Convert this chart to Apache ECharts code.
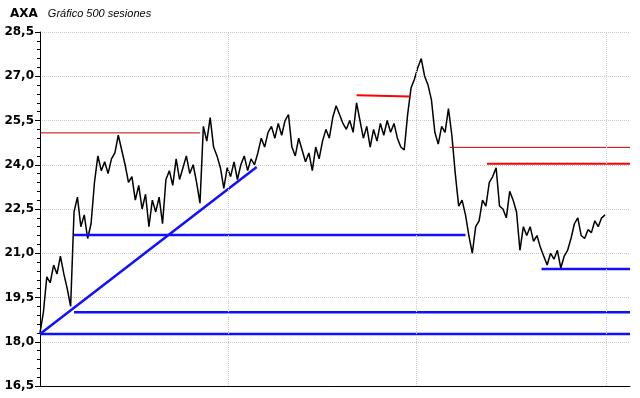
<!DOCTYPE html>
<html>
<head>
<meta charset="utf-8">
<script src="https://cdn.jsdelivr.net/npm/echarts@6/dist/echarts.min.js"></script>
<style>
  html, body { margin: 0; padding: 0; background: #fff; }
  #chart { width: 640px; height: 398px; }
</style>
</head>
<body>
<div id="chart"></div>
<script>
        // cotizaciones (una cada 3 sesiones)
        const paso = 3;
        const precios = [
            18.3, 19.0, 20.2, 20.0, 20.6, 20.3, 20.9, 20.3, 19.8, 19.2,
            22.4, 22.9, 21.9, 22.3, 21.5, 22.0, 23.4, 24.3, 23.8, 24.1,
            23.7, 24.2, 24.4, 25.0, 24.5, 24.0, 23.4, 23.6, 22.8, 23.3,
            22.5, 23.0, 21.9, 22.8, 22.4, 22.9, 22.0, 23.5, 23.8, 23.3,
            24.2, 23.5, 23.9, 24.3, 23.7, 24.0, 23.4, 22.7, 25.3, 24.8,
            25.6, 24.6, 24.3, 23.9, 23.2, 23.9, 23.6, 24.1, 23.5, 24.0,
            24.3, 23.8, 24.2, 24.0, 24.4, 24.9, 24.6, 25.1, 25.3, 24.9,
            25.4, 25.0, 25.5, 25.7, 24.6, 24.3, 24.9, 24.5, 24.1, 24.4,
            23.8, 24.6, 24.2, 24.8, 25.2, 24.9, 25.6, 26.0, 25.7, 25.4,
            25.2, 25.5, 25.1, 26.1, 25.5, 24.9, 25.3, 24.6, 25.2, 24.8,
            25.4, 25.0, 25.5, 25.1, 25.4, 24.9, 24.6, 24.5, 25.7, 26.6,
            26.9, 27.3, 27.6, 27.0, 26.7, 26.2, 25.1, 24.7, 25.3, 25.1,
            25.9, 25.0, 23.7, 22.6, 22.8, 22.3, 21.6, 21.0, 21.9, 22.1,
            22.8, 22.6, 23.4, 23.6, 23.9, 22.6, 22.5, 22.2, 23.1, 22.8,
            22.4, 21.1, 21.9, 21.6, 21.9, 21.4, 21.6, 21.2, 20.9, 20.6,
            21.0, 20.8, 21.1, 20.5, 20.9, 21.1, 21.5, 22.0, 22.2, 21.6,
            21.5, 21.8, 21.7, 22.1, 21.9, 22.2, 22.3
        ];

        // lineas: [sesion inicio, valor inicio, sesion fin, valor fin]
        const lineasAzules = [
            [30, 21.62, 375, 21.62],
            [30, 19.0, 520, 19.0],
            [0, 18.26, 520, 18.26],
            [442, 20.47, 520, 20.47],
            [0, 18.26, 191, 23.92]
        ];
        const lineasRojas = [
            [279, 26.36, 326, 26.31],
            [394, 24.03, 520, 24.03]
        ];
        const lineasFinas = [
            [0, 25.08, 141, 25.08],
            [361, 24.59, 520, 24.59]
        ];

        // separadores verticales (sesiones)
        const marcasSesion = [166, 332, 499];
        const ejeY = { min: 16.5, max: 28.5, intervalo: 1.5 };

        const serieLinea = (l, color, ancho) => ({
            type: 'line',
            data: [[l[0], l[1]], [l[2], l[3]]],
            symbol: 'none',
            silent: true,
            lineStyle: { color: color, width: ancho }
        });

        const chart = echarts.init(document.getElementById('chart'));

        const option = {
            animation: false,
            title: {
                text: '{a|AXA}  {b|Gráfico 500 sesiones}',
                left: 10,
                top: 5,
                padding: 0,
                textStyle: {
                    rich: {
                        a: { fontFamily: 'DejaVu Sans', fontWeight: 'bold', fontSize: 12, color: '#000' },
                        b: { fontFamily: 'Liberation Sans', fontStyle: 'italic', fontWeight: 'normal', fontSize: 11, color: '#000' }
                    }
                }
            },
            grid: { left: 40, right: 10, top: 32, bottom: 12 },
            xAxis: {
                type: 'value',
                min: 0,
                max: 520,
                axisLine: { lineStyle: { color: '#000', width: 1 } },
                axisTick: { show: false },
                axisLabel: { show: false },
                splitLine: { show: false }
            },
            yAxis: {
                type: 'value',
                min: ejeY.min,
                max: ejeY.max,
                interval: ejeY.intervalo,
                axisLine: { show: true, lineStyle: { color: '#000', width: 1 } },
                axisTick: { show: true, length: 5, lineStyle: { color: '#000' } },
                minorTick: { show: true, splitNumber: 5, length: 3, lineStyle: { color: '#000' } },
                axisLabel: {
                    margin: 6,
                    color: '#000',
                    fontFamily: 'DejaVu Sans',
                    fontWeight: 'bold',
                    fontSize: 12,
                    formatter: v => v.toFixed(1).replace('.', ',')
                },
                splitLine: { lineStyle: { color: '#cfc4cc', type: 'dotted', width: 1 } }
            },
            series: [
                {
                    type: 'line',
                    data: precios.map((v, i) => [i * paso, v]),
                    symbol: 'none',
                    silent: true,
                    lineStyle: { color: '#000', width: 1.5 },
                    markLine: {
                        silent: true,
                        symbol: 'none',
                        label: { show: false },
                        lineStyle: { color: '#c8ccd6', type: 'dotted', width: 1 },
                        data: marcasSesion.map(s => ({ xAxis: s }))
                    },
                    z: 3
                },
                ...lineasFinas.map(l => serieLinea(l, '#c00000', 1)),
                ...lineasRojas.map(l => serieLinea(l, '#ff0000', 2)),
                ...lineasAzules.map(l => serieLinea(l, '#1010ff', 2.5))
            ]
        };

        chart.setOption(option);
</script>
</body>
</html>
